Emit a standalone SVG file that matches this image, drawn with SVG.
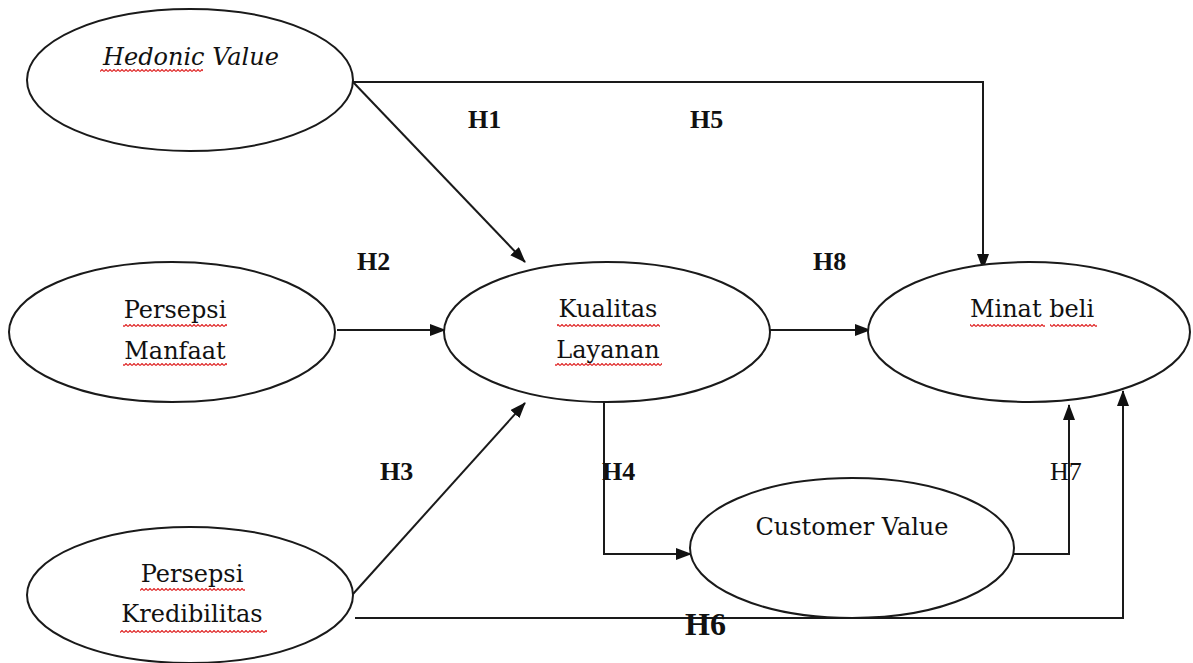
<svg xmlns="http://www.w3.org/2000/svg" width="1193" height="663" viewBox="0 0 1193 663">
<style>
.node{fill:#fff;stroke:#1a1a1a;stroke-width:2}
.lbl{font-family:"DejaVu Serif","Liberation Serif",serif;font-size:24px;fill:#111;text-anchor:middle}
.it{font-style:italic}
.h{font-family:"Liberation Serif",serif;font-size:26px;font-weight:bold;fill:#111}
.conn{fill:none;stroke:#1a1a1a;stroke-width:2}
.wave{fill:url(#wv)}
</style>
<defs>
<marker id="arr" markerUnits="userSpaceOnUse" markerWidth="16" markerHeight="12" refX="15" refY="6" orient="auto">
<path d="M0,0 L16,6 L0,12 Z" fill="#111"/>
</marker>
<pattern id="wv" patternUnits="userSpaceOnUse" width="4" height="3">
<path d="M0,2.5 L2,0.5 L4,2.5" fill="none" stroke="#e02828" stroke-width="1.2"/>
</pattern>
</defs>
<rect width="1193" height="663" fill="#fff"/>
<g id="connectors">
<path class="conn" d="M353,82 L525,262" marker-end="url(#arr)"/>
<path class="conn" d="M353,82 L983,82 L983,269" marker-end="url(#arr)"/>
<path class="conn" d="M337,330 L445,330" marker-end="url(#arr)"/>
<path class="conn" d="M770,330 L870,330" marker-end="url(#arr)"/>
<path class="conn" d="M353,594 L525,403" marker-end="url(#arr)"/>
<path class="conn" d="M355,618 L1123,618 L1123,391" marker-end="url(#arr)"/>
<path class="conn" d="M604,402 L604,554 L691,554" marker-end="url(#arr)"/>
<path class="conn" d="M1014,554 L1069,554 L1069,405" marker-end="url(#arr)"/>
</g>
<g id="labels">
<text class="h" x="468" y="128">H1</text>
<text class="h" x="690" y="128">H5</text>
<text class="h" x="357" y="270">H2</text>
<text class="h" x="813" y="270">H8</text>
<text class="h" x="380" y="480">H3</text>
<text class="h" x="602" y="480">H4</text>
<text class="h" x="1050" y="480" style="font-weight:normal">H7</text>
<text class="h" x="685" y="635" style="font-size:32px">H6</text>
</g>
<g id="hedonic">
<ellipse class="node" cx="190" cy="80" rx="163" ry="71"/>
<text class="lbl it" x="191" y="65">Hedonic Value</text>
<rect class="wave" x="100" y="69" width="103" height="3"/>
</g>
<g id="manfaat">
<ellipse class="node" cx="172" cy="332" rx="163" ry="70"/>
<text class="lbl" x="175" y="318">Persepsi</text>
<text class="lbl" x="175" y="359">Manfaat</text>
<rect class="wave" x="123" y="324" width="104" height="3"/>
<rect class="wave" x="123" y="363" width="104" height="3"/>
</g>
<g id="kualitas">
<ellipse class="node" cx="607" cy="332" rx="163" ry="70"/>
<text class="lbl" x="608" y="317">Kualitas</text>
<text class="lbl" x="608" y="358">Layanan</text>
<rect class="wave" x="557" y="324" width="103" height="3"/>
<rect class="wave" x="555" y="363" width="107" height="3"/>
</g>
<g id="minat">
<ellipse class="node" cx="1029" cy="332" rx="161" ry="70"/>
<text class="lbl" x="1032" y="317">Minat beli</text>
<rect class="wave" x="970" y="324" width="75" height="3"/>
<rect class="wave" x="1050" y="324" width="47" height="3"/>
</g>
<g id="customer">
<ellipse class="node" cx="852" cy="548" rx="162" ry="70"/>
<text class="lbl" x="852" y="535">Customer Value</text>
</g>
<g id="kredibilitas">
<ellipse class="node" cx="190" cy="595" rx="163" ry="68"/>
<text class="lbl" x="192" y="582">Persepsi</text>
<text class="lbl" x="192" y="622">Kredibilitas</text>
<rect class="wave" x="140" y="588" width="105" height="3"/>
<rect class="wave" x="120" y="630" width="147" height="3"/>
</g>
</svg>
